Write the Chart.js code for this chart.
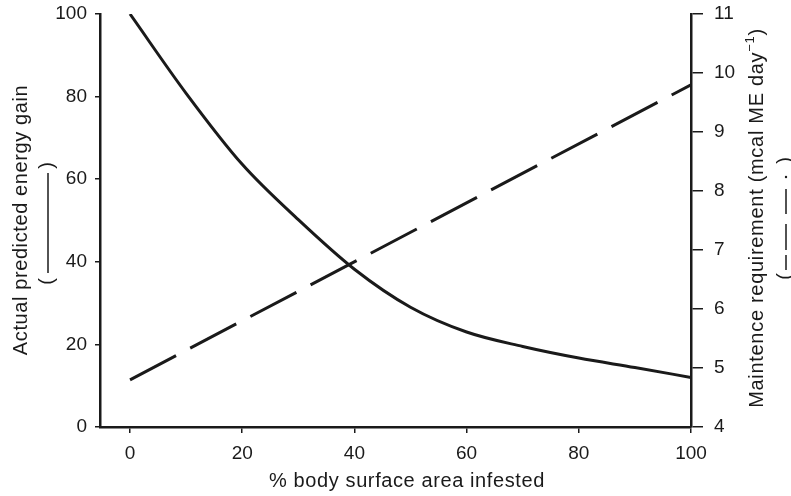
<!DOCTYPE html>
<html>
<head>
<meta charset="utf-8">
<script src="https://cdn.jsdelivr.net/npm/chart.js@4"></script>
<style>
  html, body { margin: 0; padding: 0; background: #fff; }
  #wrap { width: 791px; height: 496px; }
</style>
</head>
<body>
<div id="wrap"><canvas id="grafico" width="791" height="496"></canvas></div>
<script>
// dados
var pctInfested = [0, 10, 20, 30, 40, 50, 60, 70, 80, 90, 100];
var energyGain = [100, 80.8, 63.6, 50.2, 38.2, 29, 23, 19.5, 16.7, 14.4, 12];
var maintX = [0, 100];
var maintReq = [4.8, 9.8];

var xTicks = [0, 20, 40, 60, 80, 100];
var yTicks = [0, 20, 40, 60, 80, 100];
var y2Ticks = [4, 5, 6, 7, 8, 9, 10, 11];

var xTitle = '% body surface area infested';
var yTitle = 'Actual predicted energy gain';
var y2Title = 'Maintence requirement (mcal ME day';

var INK = '#1a1a1a';
var FONT = '"Liberation Sans", Arial, Helvetica, sans-serif';

// titulos dos eixos (com a amostra da linha entre parenteses)
var axisTitles = {
    id: 'axisTitles',
    afterDraw: function (chart) {
        var ctx = chart.ctx;
        ctx.save();
        ctx.fillStyle = INK;
        ctx.strokeStyle = INK;
        ctx.font = '20px ' + FONT;
        ctx.letterSpacing = '0.6px';
        ctx.textAlign = 'center';
        ctx.textBaseline = 'middle';

        // eixo x
        ctx.fillText(xTitle, 407, 481);

        // eixo y esquerdo
        ctx.save();
        ctx.translate(21, 220);
        ctx.rotate(-Math.PI / 2);
        ctx.fillText(yTitle, 0, 0);
        ctx.translate(-3, 26);
        ctx.fillText('(', -58, 0);
        ctx.fillText(')', 58, 0);
        ctx.lineWidth = 1.5;
        ctx.beginPath();
        ctx.moveTo(-50, 1);
        ctx.lineTo(50, 1);
        ctx.stroke();
        ctx.restore();

        // eixo y direito
        ctx.save();
        ctx.translate(757, 218);
        ctx.rotate(-Math.PI / 2);
        ctx.textAlign = 'left';
        ctx.letterSpacing = '0.7px';
        ctx.font = '20px ' + FONT;
        var w1 = ctx.measureText(y2Title).width;
        ctx.font = '13px ' + FONT;
        var w2 = ctx.measureText('\u22121').width;
        ctx.font = '20px ' + FONT;
        var w3 = ctx.measureText(')').width;
        var x0 = -(w1 + w2 + w3) / 2;
        ctx.fillText(y2Title, x0, 0);
        ctx.font = '13px ' + FONT;
        ctx.fillText('\u22121', x0 + w1, -7);
        ctx.font = '20px ' + FONT;
        ctx.fillText(')', x0 + w1 + w2, 0);

        ctx.translate(0, 28);
        ctx.textAlign = 'center';
        ctx.fillText('(', -58, 0);
        ctx.fillText(')', 58, 0);
        ctx.lineWidth = 1.5;
        var segs = [[-52, -37], [-32, -6], [4, 29]];
        ctx.beginPath();
        segs.forEach(function (s) { ctx.moveTo(s[0], 1); ctx.lineTo(s[1], 1); });
        ctx.stroke();
        ctx.beginPath();
        ctx.arc(41, 1, 1.2, 0, Math.PI * 2);
        ctx.fill();
        ctx.restore();

        ctx.restore();
    }
};

// tamanho fixo dos eixos, sem folga extra pelos rotulos
function fixVertical(s) {
    s.width = 100;
    s.paddingTop = 0;
    s.paddingBottom = 0;
}

var ctx = document.getElementById('grafico');

new Chart(ctx, {
    type: 'line',
    data: {
        datasets: [{
            label: 'energy gain',
            data: pctInfested.map(function (x, i) { return { x: x, y: energyGain[i] }; }),
            yAxisID: 'y',
            borderColor: INK,
            borderWidth: 3,
            pointRadius: 0,
            cubicInterpolationMode: 'monotone',
            fill: false
        }, {
            label: 'maintenance',
            data: maintX.map(function (x, i) { return { x: x, y: maintReq[i] }; }),
            yAxisID: 'y2',
            borderColor: INK,
            borderWidth: 3,
            borderDash: [52, 16],
            pointRadius: 0,
            fill: false
        }]
    },
    options: {
        responsive: false,
        animation: false,
        layout: { padding: { top: 14, left: 0, right: 0, bottom: 0 } },
        plugins: { legend: { display: false }, tooltip: { enabled: false } },
        scales: {
            x: {
                type: 'linear',
                min: -5.35,
                max: 100,
                afterFit: function (s) { s.height = 69; s.paddingLeft = 0; s.paddingRight = 0; },
                afterBuildTicks: function (s) { s.ticks = xTicks.map(function (v) { return { value: v }; }); },
                border: { display: true, color: INK, width: 2.5 },
                grid: { drawOnChartArea: false, drawTicks: true, tickLength: 6, color: INK, lineWidth: 1.5 },
                ticks: { color: INK, padding: 9, maxRotation: 0, font: { family: FONT, size: 19 } }
            },
            y: {
                position: 'left',
                min: 0,
                max: 100,
                afterFit: fixVertical,
                afterBuildTicks: function (s) { s.ticks = yTicks.map(function (v) { return { value: v }; }); },
                border: { display: true, color: INK, width: 2.5 },
                grid: { drawOnChartArea: false, drawTicks: true, tickLength: 5, color: INK, lineWidth: 1.5 },
                ticks: { color: INK, padding: 8, font: { family: FONT, size: 19 } }
            },
            y2: {
                position: 'right',
                min: 4,
                max: 11,
                afterFit: fixVertical,
                afterBuildTicks: function (s) { s.ticks = y2Ticks.map(function (v) { return { value: v }; }); },
                border: { display: true, color: INK, width: 2.5 },
                grid: { drawOnChartArea: false, drawTicks: true, tickLength: 12, color: INK, lineWidth: 1.5 },
                ticks: { color: INK, padding: 11, font: { family: FONT, size: 19 } }
            }
        }
    },
    plugins: [axisTitles]
});
</script>
</body>
</html>
